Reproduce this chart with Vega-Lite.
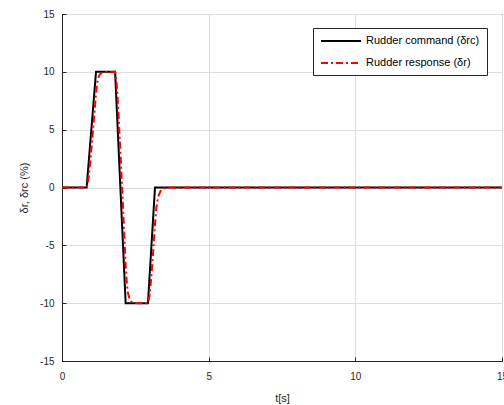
{
  "$schema": "https://vega.github.io/schema/vega-lite/v6.json",
  "width": 440,
  "height": 347,
  "autosize": {"type": "none"},
  "padding": {"left": 62, "top": 14, "right": 2, "bottom": 44},
  "background": "white",
  "config": {
    "view": {"stroke": "#262626", "strokeWidth": 1},
    "font": "Liberation Sans",
    "axis": {
      "domainColor": "#262626",
      "tickColor": "#262626",
      "labelColor": "#262626",
      "titleColor": "#262626",
      "labelFontSize": 10,
      "titleFontSize": 11,
      "titleFontWeight": "normal",
      "gridColor": "#dedede",
      "gridWidth": 1,
      "tickSize": -4,
      "labelFlush": false,
      "labelFont": "Liberation Sans",
      "titleFont": "Liberation Sans",
      "labelExpr": "datum.value < 0 ? '-' + abs(datum.value) : '' + datum.value"
    }
  },
  "data": {
    "values": [
      {"t": 0, "v": 0, "s": "Rudder command (δrc)"},
      {"t": 0.84, "v": 0, "s": "Rudder command (δrc)"},
      {"t": 1.16, "v": 10, "s": "Rudder command (δrc)"},
      {"t": 1.81, "v": 10, "s": "Rudder command (δrc)"},
      {"t": 2.17, "v": -10, "s": "Rudder command (δrc)"},
      {"t": 2.93, "v": -10, "s": "Rudder command (δrc)"},
      {"t": 3.17, "v": 0, "s": "Rudder command (δrc)"},
      {"t": 15, "v": 0, "s": "Rudder command (δrc)"},
      {"t": 0, "v": 0, "s": "Rudder response (δr)"},
      {"t": 0.84, "v": 0, "s": "Rudder response (δr)"},
      {"t": 0.88, "v": 0.34, "s": "Rudder response (δr)"},
      {"t": 0.92, "v": 1.12, "s": "Rudder response (δr)"},
      {"t": 0.96, "v": 2.13, "s": "Rudder response (δr)"},
      {"t": 1.0, "v": 3.26, "s": "Rudder response (δr)"},
      {"t": 1.04, "v": 4.44, "s": "Rudder response (δr)"},
      {"t": 1.08, "v": 5.66, "s": "Rudder response (δr)"},
      {"t": 1.12, "v": 6.89, "s": "Rudder response (δr)"},
      {"t": 1.16, "v": 8.13, "s": "Rudder response (δr)"},
      {"t": 1.2, "v": 9.04, "s": "Rudder response (δr)"},
      {"t": 1.24, "v": 9.51, "s": "Rudder response (δr)"},
      {"t": 1.3, "v": 9.82, "s": "Rudder response (δr)"},
      {"t": 1.38, "v": 9.95, "s": "Rudder response (δr)"},
      {"t": 1.5, "v": 9.99, "s": "Rudder response (δr)"},
      {"t": 1.81, "v": 10, "s": "Rudder response (δr)"},
      {"t": 1.85, "v": 9.4, "s": "Rudder response (δr)"},
      {"t": 1.89, "v": 8.01, "s": "Rudder response (δr)"},
      {"t": 1.93, "v": 6.22, "s": "Rudder response (δr)"},
      {"t": 1.97, "v": 4.21, "s": "Rudder response (δr)"},
      {"t": 2.01, "v": 2.1, "s": "Rudder response (δr)"},
      {"t": 2.05, "v": -0.06, "s": "Rudder response (δr)"},
      {"t": 2.09, "v": -2.25, "s": "Rudder response (δr)"},
      {"t": 2.13, "v": -4.46, "s": "Rudder response (δr)"},
      {"t": 2.17, "v": -6.68, "s": "Rudder response (δr)"},
      {"t": 2.21, "v": -8.29, "s": "Rudder response (δr)"},
      {"t": 2.25, "v": -9.12, "s": "Rudder response (δr)"},
      {"t": 2.3, "v": -9.62, "s": "Rudder response (δr)"},
      {"t": 2.36, "v": -9.86, "s": "Rudder response (δr)"},
      {"t": 2.45, "v": -9.97, "s": "Rudder response (δr)"},
      {"t": 2.6, "v": -10, "s": "Rudder response (δr)"},
      {"t": 2.93, "v": -10, "s": "Rudder response (δr)"},
      {"t": 2.99, "v": -9.26, "s": "Rudder response (δr)"},
      {"t": 3.05, "v": -7.59, "s": "Rudder response (δr)"},
      {"t": 3.11, "v": -5.48, "s": "Rudder response (δr)"},
      {"t": 3.17, "v": -3.16, "s": "Rudder response (δr)"},
      {"t": 3.22, "v": -1.69, "s": "Rudder response (δr)"},
      {"t": 3.28, "v": -0.8, "s": "Rudder response (δr)"},
      {"t": 3.36, "v": -0.29, "s": "Rudder response (δr)"},
      {"t": 3.46, "v": -0.08, "s": "Rudder response (δr)"},
      {"t": 3.6, "v": -0.02, "s": "Rudder response (δr)"},
      {"t": 3.8, "v": 0, "s": "Rudder response (δr)"},
      {"t": 15, "v": 0, "s": "Rudder response (δr)"}
    ]
  },
  "mark": {"type": "line", "strokeWidth": 2, "clip": true},
  "encoding": {
    "x": {
      "field": "t", "type": "quantitative",
      "scale": {"domain": [0, 15], "nice": false},
      "axis": {"title": "t[s]", "values": [0, 5, 10, 15], "labelPadding": 14, "titlePadding": 11, "grid": true}
    },
    "y": {
      "field": "v", "type": "quantitative",
      "scale": {"domain": [-15, 15], "nice": false},
      "axis": {"title": "δr, δrc (%)", "values": [-15, -10, -5, 0, 5, 10, 15], "labelPadding": 12, "titlePadding": 10, "grid": true}
    },
    "color": {
      "field": "s", "type": "nominal",
      "scale": {"domain": ["Rudder command (δrc)", "Rudder response (δr)"], "range": ["#000000", "#ff0000"]},
      "legend": {
        "title": null, "orient": "none", "legendX": 251, "legendY": 14,
        "strokeColor": "#262626", "fillColor": "white", "padding": 7,
        "symbolType": "M-1,0H7", "symbolSize": 100, "symbolStrokeWidth": 2,
        "labelFontSize": 11, "labelColor": "#000000", "rowPadding": 11, "labelOffset": 34
      }
    },
    "strokeDash": {
      "field": "s", "type": "nominal",
      "scale": {"domain": ["Rudder command (δrc)", "Rudder response (δr)"], "range": [[1, 0], [7, 3, 2, 3]]},
      "legend": {
        "title": null, "orient": "none", "legendX": 251, "legendY": 14,
        "strokeColor": "#262626", "fillColor": "white", "padding": 7,
        "symbolType": "M-1,0H7", "symbolSize": 100, "symbolStrokeWidth": 2,
        "labelFontSize": 11, "labelColor": "#000000", "rowPadding": 11, "labelOffset": 34
      }
    },
    "order": {"field": "t", "type": "quantitative"}
  }
}
